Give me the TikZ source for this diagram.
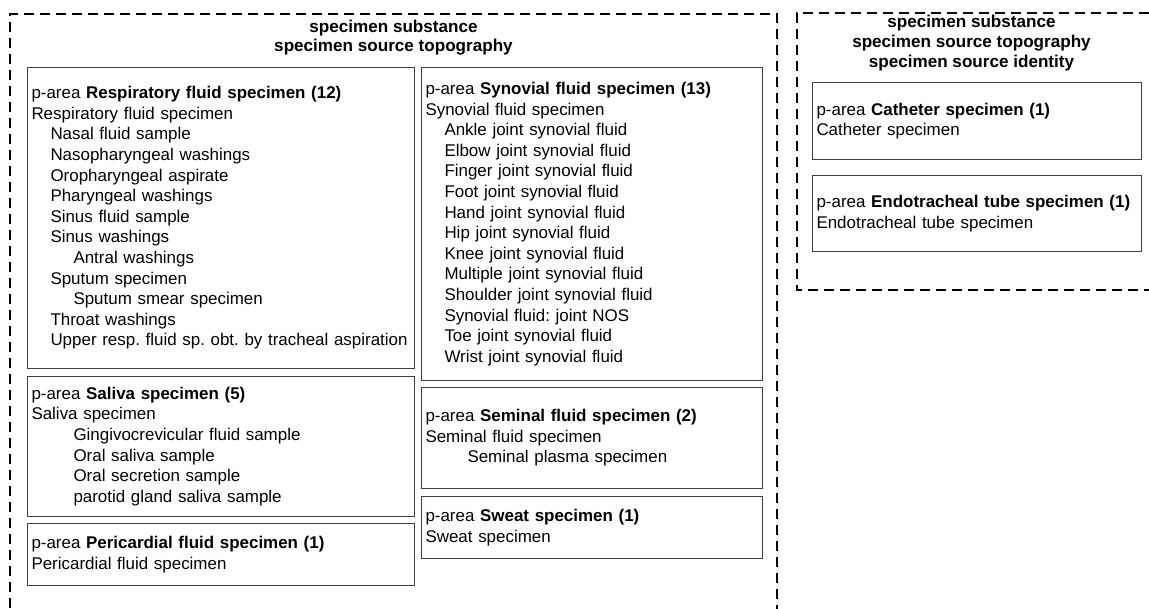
\documentclass[tikz,border=0pt]{standalone}
\usepackage{fontspec}
\setmainfont{Liberation Sans}
\newcommand{\ia}{\hspace*{19pt}}
\newcommand{\ib}{\hspace*{42pt}}
\tikzset{
  pbox/.style={draw=black!75, line width=1pt, anchor=north west, align=left,
    inner xsep=4pt, inner ysep=0pt, font=\fontsize{16.95}{20.6}\selectfont\frenchspacing},
  dashbox/.style={draw=black, line width=2pt, dash pattern=on 10pt off 6pt},
  ttl/.style={font=\fontsize{17.1}{19.6}\selectfont\bfseries, align=center, inner sep=0pt}
}
\begin{document}
\begin{tikzpicture}[x=1pt,y=-1pt]
\useasboundingbox (0,0) rectangle (1149,609);
\clip (0,0) rectangle (1149,609);
% containers
\draw[dashbox] (10,640) -- (10,14) -- (777,14) -- (777,640);
\draw[dashbox] (1170,290) -- (797,290) -- (797,13) -- (1170,13);
\node[ttl] (ltitle) at (393.5,37.5) {specimen substance\\specimen source topography};
\node[ttl] (rtitle) at (971.5,43) {specimen substance\\specimen source topography\\specimen source identity};
% left column
\node[pbox, text width=379pt, minimum height=301pt] (resp) at (27,67) {p-area \textbf{Respiratory fluid specimen (12)}\\
Respiratory fluid specimen\\
\ia Nasal fluid sample\\
\ia Nasopharyngeal washings\\
\ia Oropharyngeal aspirate\\
\ia Pharyngeal washings\\
\ia Sinus fluid sample\\
\ia Sinus washings\\
\ib Antral washings\\
\ia Sputum specimen\\
\ib Sputum smear specimen\\
\ia Throat washings\\
\ia\mbox{Upper resp. fluid sp. obt. by tracheal aspiration}};
\node[pbox, text width=379pt, minimum height=140pt] (saliva) at (27,376) {p-area \textbf{Saliva specimen (5)}\\
Saliva specimen\\
\ib Gingivocrevicular fluid sample\\
\ib Oral saliva sample\\
\ib Oral secretion sample\\
\ib parotid gland saliva sample};
\node[pbox, text width=379pt, minimum height=62pt] (peri) at (27,523) {p-area \textbf{Pericardial fluid specimen (1)}\\
Pericardial fluid specimen};
% middle column
\node[pbox, text width=333pt, minimum height=313pt] (syn) at (421,67) {p-area \textbf{Synovial fluid specimen (13)}\\
Synovial fluid specimen\\
\ia Ankle joint synovial fluid\\
\ia Elbow joint synovial fluid\\
\ia Finger joint synovial fluid\\
\ia Foot joint synovial fluid\\
\ia Hand joint synovial fluid\\
\ia Hip joint synovial fluid\\
\ia Knee joint synovial fluid\\
\ia Multiple joint synovial fluid\\
\ia Shoulder joint synovial fluid\\
\ia Synovial fluid: joint NOS\\
\ia Toe joint synovial fluid\\
\ia Wrist joint synovial fluid};
\node[pbox, text width=333pt, minimum height=101pt] (semi) at (421,387) {p-area \textbf{Seminal fluid specimen (2)}\\
Seminal fluid specimen\\
\ib Seminal plasma specimen};
\node[pbox, text width=333pt, minimum height=62pt] (sweat) at (421,496) {p-area \textbf{Sweat specimen (1)}\\
Sweat specimen};
% right container
\node[pbox, text width=321pt, minimum height=77pt] (cath) at (812,82) {p-area \textbf{Catheter specimen (1)}\\
Catheter specimen};
\node[pbox, text width=321pt, minimum height=76pt] (endo) at (812,175) {p-area \textbf{Endotracheal tube specimen (1)}\\
Endotracheal tube specimen};
\end{tikzpicture}
\end{document}
